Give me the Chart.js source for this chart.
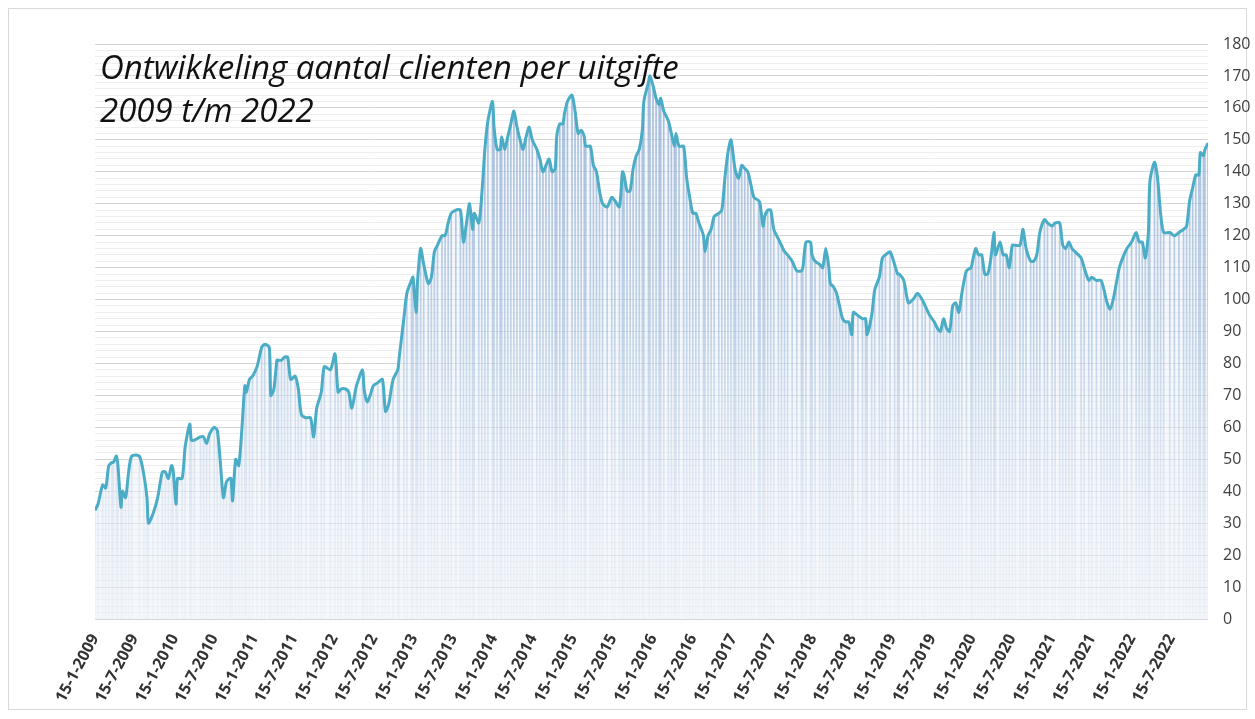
<!DOCTYPE html>
<html>
<head>
<meta charset="utf-8">
<script src="https://cdn.jsdelivr.net/npm/chart.js@4"></script>
<style>
  html, body { margin: 0; padding: 0; background: #fff; }
  #wrap { position: relative; width: 1255px; height: 719px; }
  #frame { position: absolute; left: 8px; top: 8px; width: 1237px; height: 700px; border: 1px solid #d9d9d9; }
  #title {
    position: absolute; left: 100px; top: 45px;
    font-family: "Open Sans", sans-serif; font-style: italic;
    font-size: 33px; line-height: 43px; color: #111;
    pointer-events: none; white-space: nowrap;
  }
  canvas { position: absolute; left: 0; top: 0; }
</style>
</head>
<body>
<div id="wrap">
  <div id="frame"></div>
  <canvas id="chart" width="1255" height="719"></canvas>
  <div id="title">Ontwikkeling aantal clienten per uitgifte<br>2009 t/m 2022</div>
</div>
<script>
const weeks = [0, 2, 5, 7, 9, 11, 12, 14, 15, 17, 18, 20, 22, 24, 29, 32, 34, 35, 38, 41, 44, 46, 48, 50, 51, 53, 54, 57, 59, 62, 63, 65, 69, 71, 73, 75, 78, 80, 82, 84, 86, 88, 89, 90, 92, 94, 96, 98, 99, 101, 103, 106, 109, 111, 114, 115, 117, 119, 120, 122, 124, 126, 128, 131, 133, 135, 138, 141, 143, 145, 148, 150, 154, 157, 159, 161, 164, 166, 168, 171, 175, 176, 178, 180, 182, 185, 188, 190, 192, 195, 198, 199, 202, 204, 207, 208, 210, 211, 213, 215, 218, 220, 222, 224, 227, 229, 231, 233, 236, 239, 241, 243, 245, 247, 248, 251, 253, 255, 257, 260, 261, 263, 265, 266, 268, 270, 272, 274, 276, 278, 280, 282, 284, 286, 289, 291, 293, 295, 297, 299, 301, 302, 304, 306, 307, 309, 312, 314, 316, 318, 320, 321, 324, 326, 328, 330, 332, 335, 338, 340, 343, 345, 346, 348, 350, 352, 354, 356, 358, 359, 362, 363, 365, 367, 369, 370, 372, 375, 377, 379, 380, 382, 385, 387, 389, 391, 393, 395, 398, 399, 401, 403, 405, 408, 410, 412, 414, 416, 418, 419, 421, 423, 425, 427, 429, 431, 434, 435, 437, 438, 440, 442, 444, 447, 449, 451, 453, 456, 459, 462, 463, 465, 468, 469, 471, 474, 476, 478, 480, 481, 483, 485, 487, 489, 491, 493, 495, 496, 499, 502, 504, 505, 508, 510, 513, 515, 517, 520, 523, 525, 526, 529, 532, 535, 538, 541, 543, 546, 549, 551, 553, 555, 557, 559, 561, 563, 565, 567, 570, 573, 574, 576, 578, 580, 582, 584, 586, 588, 589, 592, 594, 596, 598, 600, 602, 605, 607, 609, 612, 614, 616, 618, 621, 623, 626, 628, 631, 633, 635, 637, 639, 641, 645, 647, 650, 652, 655, 658, 660, 662, 664, 666, 668, 670, 673, 675, 678, 681, 683, 685, 687, 689, 690, 693, 695, 697, 699, 703, 706, 709, 712, 714, 716, 718, 720, 722, 723, 725, 726, 728];

// number of clients per distribution
const clients = [34, 36, 42, 41, 48, 49, 49, 51, 48, 35, 40, 38, 46, 51, 51, 45, 38, 30, 33, 38, 46, 46, 44, 48, 47, 36, 44, 44, 54, 61, 56, 56, 57, 57, 55, 58, 60, 59, 49, 38, 43, 44, 44, 37, 50, 48, 59, 73, 71, 75, 76, 79, 85, 86, 85, 70, 72, 81, 81, 81, 82, 82, 75, 76, 72, 64, 63, 63, 57, 66, 71, 79, 78, 83, 71, 72, 72, 71, 66, 73, 78, 72, 68, 70, 73, 74, 75, 65, 67, 75, 78, 82, 94, 102, 106, 107, 96, 106, 116, 111, 105, 107, 115, 117, 120, 120, 124, 127, 128, 128, 118, 124, 130, 122, 127, 124, 133, 147, 156, 162, 154, 147, 147, 151, 147, 151, 155, 159, 154, 150, 147, 151, 154, 150, 147, 144, 140, 142, 144, 140, 141, 151, 155, 155, 158, 162, 164, 159, 152, 153, 151, 148, 148, 142, 140, 134, 130, 129, 132, 131, 129, 140, 139, 134, 134, 141, 145, 147, 153, 162, 168, 170, 167, 163, 161, 163, 159, 156, 152, 148, 152, 148, 148, 138, 132, 127, 127, 124, 120, 115, 120, 122, 126, 127, 128, 138, 146, 150, 143, 140, 138, 142, 141, 140, 136, 132, 131, 130, 123, 126, 128, 128, 122, 119, 117, 115, 114, 112, 109, 109, 110, 118, 118, 114, 112, 111, 110, 116, 110, 105, 104, 102, 98, 94, 93, 93, 89, 96, 95, 94, 94, 89, 95, 103, 107, 113, 114, 115, 111, 108, 108, 106, 99, 100, 102, 100, 98, 95, 93, 91, 90, 94, 91, 90, 98, 99, 96, 102, 109, 110, 112, 116, 114, 114, 108, 108, 113, 121, 114, 118, 114, 114, 110, 117, 117, 117, 122, 116, 112, 112, 114, 121, 125, 124, 123, 124, 124, 117, 116, 118, 116, 115, 113, 110, 106, 107, 106, 106, 103, 99, 97, 100, 105, 110, 114, 116, 118, 121, 118, 118, 113, 121, 137, 143, 138, 127, 121, 121, 120, 121, 122, 123, 131, 135, 139, 139, 146, 145, 147, 149];

const tickLabels = ['15-1-2009', '15-7-2009', '15-1-2010', '15-7-2010', '15-1-2011', '15-7-2011',
  '15-1-2012', '15-7-2012', '15-1-2013', '15-7-2013', '15-1-2014', '15-7-2014', '15-1-2015', '15-7-2015',
  '15-1-2016', '15-7-2016', '15-1-2017', '15-7-2017', '15-1-2018', '15-7-2018', '15-1-2019', '15-7-2019',
  '15-1-2020', '15-7-2020', '15-1-2021', '15-7-2021', '15-1-2022', '15-7-2022'];

// tick label -> position in weeks since the first distribution
function toWeeks(label) {
  const p = label.split('-').map(Number);
  const start = Date.UTC(2009, 0, 15);
  return (Date.UTC(p[2], p[1] - 1, p[0]) - start) / (7 * 86400000);
}
const tickWeeks = tickLabels.map(toWeeks);

const points = weeks.map((w, i) => ({ x: w, y: clients[i] }));

function vGradient(ctx, stops) {
  const area = ctx.chart.chartArea;
  if (!area) return stops[0][1];
  const g = ctx.chart.ctx.createLinearGradient(0, area.top, 0, area.bottom);
  stops.forEach(s => g.addColorStop(s[0], s[1]));
  return g;
}

new Chart(document.getElementById('chart'), {
  type: 'line',
  data: {
    datasets: [
      {
        type: 'line',
        data: points,
        borderColor: '#4bacc6',
        borderWidth: 3,
        pointRadius: 0,
        tension: 0.25,
        fill: 'origin',
        backgroundColor: ctx => vGradient(ctx, [[0, 'rgba(226,234,245,0.3)'], [1, 'rgba(236,241,248,0.55)']]),
        order: 0
      },
      {
        type: 'bar',
        data: points,
        barThickness: 1,
        backgroundColor: ctx => vGradient(ctx, [[0, 'rgba(130,162,205,0.75)'], [0.5, 'rgba(150,180,215,0.55)'], [1, 'rgba(215,226,240,0.2)']]),
        order: 1
      }
    ]
  },
  options: {
    responsive: false,
    animation: false,
    layout: { padding: { top: 44, left: 95, right: 0, bottom: 0 } },
    plugins: {
      legend: { display: false },
      tooltip: { enabled: false },
      filler: { drawTime: 'beforeDatasetsDraw' }
    },
    scales: {
      x: {
        type: 'linear',
        min: 0,
        max: 728,
        offset: false,
        grid: { display: false },
        border: { display: false },
        afterBuildTicks: axis => { axis.ticks = tickWeeks.map(v => ({ value: v })); },
        afterFit: axis => { axis.height = 100; },
        ticks: {
          autoSkip: false,
          minRotation: 62,
          maxRotation: 62,
          padding: 4,
          color: '#333',
          font: { family: 'Open Sans', size: 16, weight: 'bold' },
          callback: (v, i) => tickLabels[i]
        }
      },
      y: {
        position: 'right',
        min: 0,
        max: 180,
        border: { display: false },
        afterFit: axis => { axis.width = 47; },
        grid: {
          drawTicks: false,
          color: ctx => (ctx.tick && ctx.tick.value % 10 === 0) ? '#d6d6d6' : '#eeeeee',
          lineWidth: 1
        },
        ticks: {
          stepSize: 2,
          autoSkip: false,
          padding: 15,
          color: '#404040',
          font: { family: 'Open Sans', size: 16 },
          callback: v => (v % 10 === 0 ? String(v) : '')
        }
      }
    }
  }
});
</script>
</body>
</html>
